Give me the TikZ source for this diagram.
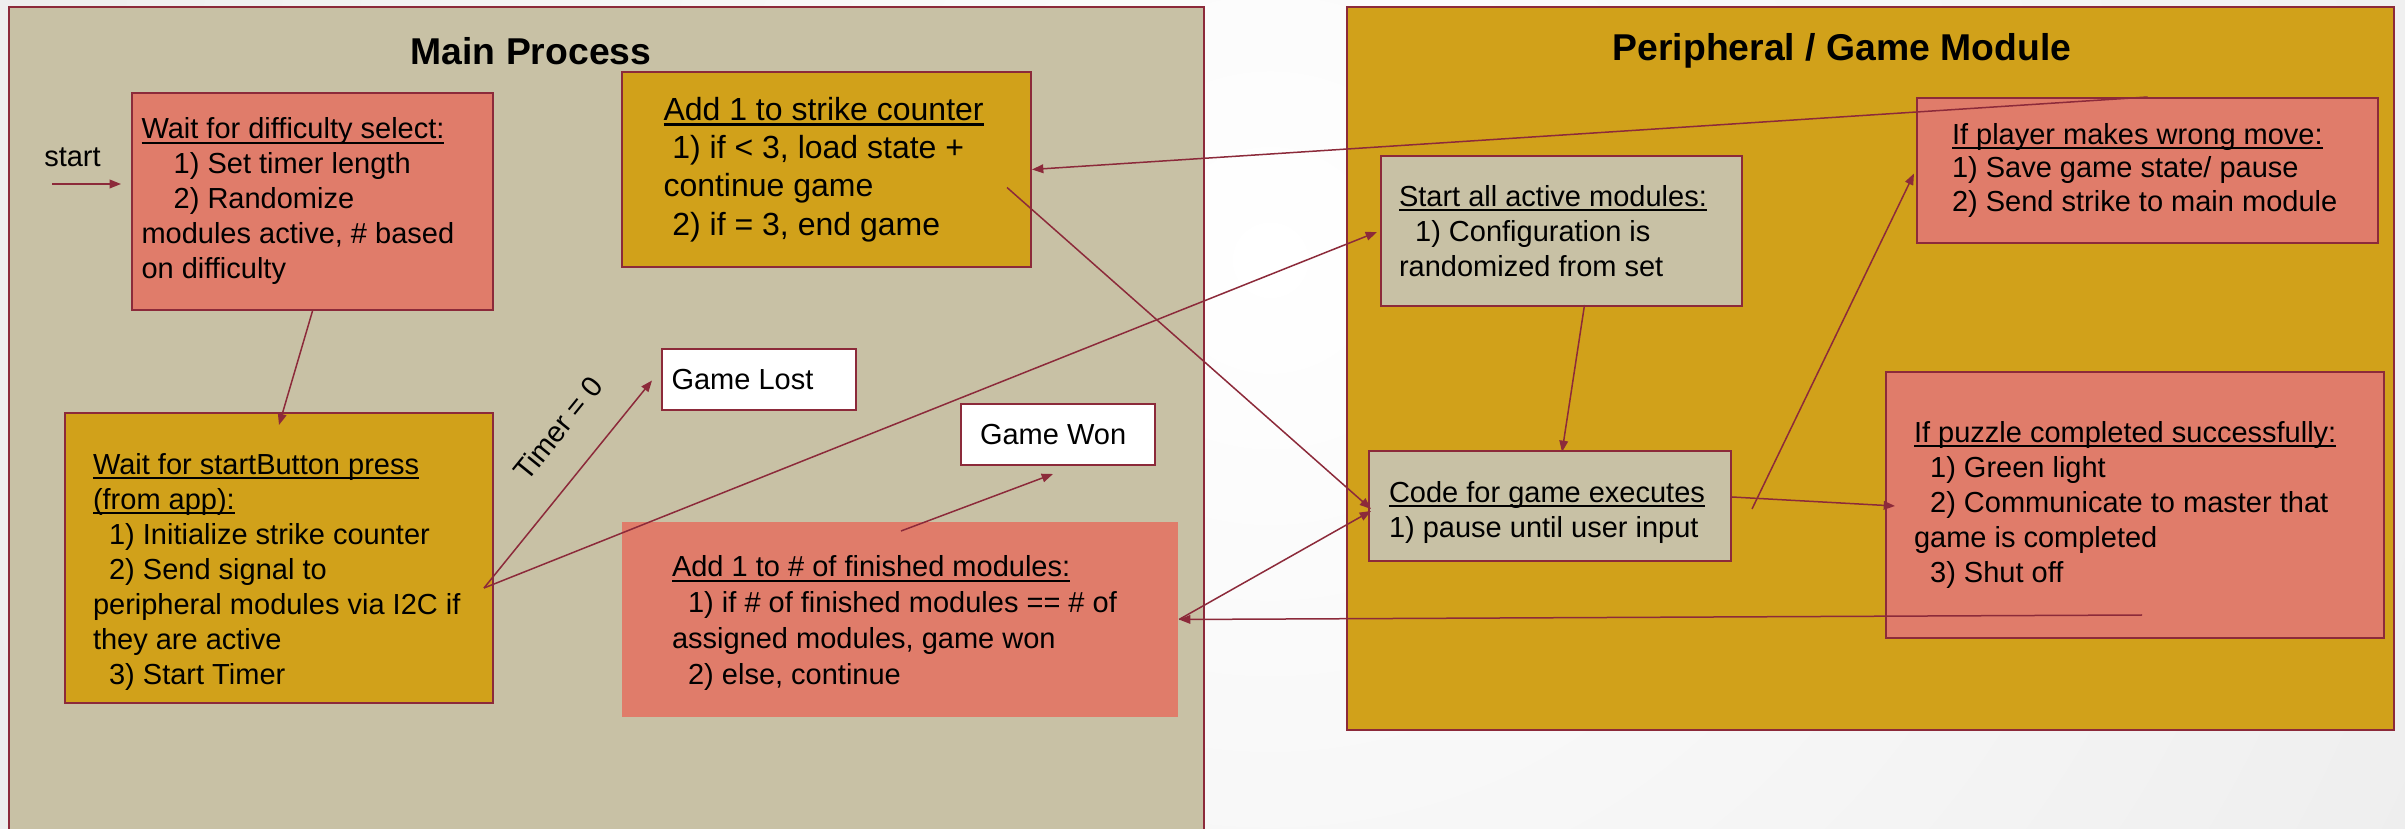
\documentclass[tikz,border=0pt]{standalone}
\usepackage{fontspec}
\setmainfont{Liberation Sans}
\usepackage{tikz}
\usetikzlibrary{calc,arrows.meta}
\definecolor{rim}{HTML}{8C2A3A}
\definecolor{sand}{HTML}{C8C1A5}
\definecolor{mustard}{HTML}{D1A11A}
\definecolor{coral}{HTML}{E07C6A}
\newcommand{\ulhead}[1]{\setbox0\hbox{#1}\leavevmode\rlap{\rule[-0.17em]{\wd0}{0.07em}}\box0}
\newcommand{\tabsp}[1]{\hspace*{#1\fontdimen2\font}}
\tikzset{panel/.style={draw=rim, line width=0.7pt}}
\tikzset{heading/.style={inner sep=0pt, font=\fontsize{11.2}{13}\selectfont\bfseries}}
\tikzset{blk/.style={draw=rim, line width=0.6pt, align=flush left, inner ysep=0pt, anchor=center, font=\fontsize{8.7}{10.5}\selectfont}}
\tikzset{lbl/.style={inner sep=0pt, font=\fontsize{8.7}{10.5}\selectfont}}
\tikzset{arr/.style={draw=rim, line width=0.45pt, -{Triangle[length=3.4pt,width=2.6pt]}}}

\begin{document}
\begin{tikzpicture}[x=0.3pt,y=-0.3pt]
\useasboundingbox (0,0) rectangle (2405,829);
\begin{scope}
	\clip (0,0) rectangle (2405,829);
	\shade[inner color=white, outer color=black!14] (1270,260) circle (810pt);
\end{scope}
\fill[sand] (9,7) rectangle (1204,829);
\draw[panel] (9,829) -- (9,7) -- (1204,7) -- (1204,829);
\draw[panel, fill=mustard] (1347,7) rectangle (2394,730);
\node[heading] (mainhd) at (531,51) {Main Process};
\node[heading] (perihd) at (1842,51) {Peripheral / Game Module};

\node[lbl] (start) at (72.5,157) {start};
\coordinate (startin) at (52,184);

\begin{scope}[every node/.style={blk}]
	\node[fill=coral, text width=102.6pt, inner xsep=2.85pt, minimum height=65.1pt] at (312.5,201.5) (diff) {\ulhead{Wait for difficulty select:}\\
		\tabsp{4}1) Set timer length\\
		\tabsp{4}2) Randomize\\
		modules active, \# based\\
		on difficulty};
	\node[fill=mustard, text width=111.6pt, inner xsep=8.4pt, minimum height=87pt] at (279,558) (startbtn) {\rule{0pt}{14.5pt}\ulhead{Wait for startButton press}\\
		\ulhead{(from app):}\\
		\tabsp{2}1) Initialize strike counter\\
		\tabsp{2}2) Send signal to\\
		peripheral modules via I2C if\\
		they are active\\
		\tabsp{2}3) Start Timer};
	\node[fill=mustard, text width=97.8pt, inner xsep=12.45pt, minimum height=58.5pt,
		font=\fontsize{9.6}{11.5}\selectfont] at (826.5,169.5) (strike) {\ulhead{Add 1 to strike counter}\\
		\tabsp{1}1) if < 3, load state +\\
		continue game\\
		\tabsp{1}2) if = 3, end game};
	\node[fill=white, text width=52.5pt, inner xsep=2.85pt, minimum height=18.3pt] at (759,379.5) (lost) {Game Lost};
	\node[fill=white, text width=46.8pt, inner xsep=5.7pt, minimum height=18.3pt] at (1058,434.5) (won) {Game Won};
	\node[fill=coral, draw=none, text width=136.8pt, inner xsep=15pt, minimum height=58.5pt,
		font=\fontsize{8.7}{10.8}\selectfont] at (900,619.5) (finished) {\rule{0pt}{8.5pt}\ulhead{Add 1 to \# of finished modules:}\\
		\tabsp{2}1) if \# of finished modules == \# of\\
		assigned modules, game won\\
		\tabsp{2}2) else, continue};
	\node[fill=sand, text width=97.5pt, inner xsep=5.4pt, minimum height=45pt] at (1561.5,231) (startall) {\ulhead{Start all active modules:}\\
		\tabsp{2}1) Configuration is\\
		randomized from set};
	\node[fill=sand, text width=96.6pt, inner xsep=6pt, minimum height=33pt] at (1550,506) (code) {\rule{0pt}{10pt}\ulhead{Code for game executes}\\
		1) pause until user input};
	\node[fill=coral, text width=117.3pt, inner xsep=10.5pt, minimum height=43.5pt,
		font=\fontsize{8.7}{10.1}\selectfont] at (2147.5,170.5) (wrong) {\ulhead{If player makes wrong move:}\\
		1) Save game state/ pause\\
		2) Send strike to main module};
	\node[fill=coral, text width=132.6pt, inner xsep=8.4pt, minimum height=79.8pt] at (2135,505) (success) {\ulhead{If puzzle completed successfully:}\\
		\tabsp{2}1) Green light\\
		\tabsp{2}2) Communicate to master that\\
		game is completed\\
		\tabsp{2}3) Shut off};
\end{scope}

\draw[arr, shorten >=3pt] (startin) -- (startin -| diff.west);
\draw[arr] (diff.south) -- ($(startbtn.north)+(0,13)$);
\draw[arr] ($(startbtn.east)+(-10,30)$) -- node[lbl, pos=.64, sloped, above=9.5pt] (timer) {Timer = 0} ($(lost.west)+(-9,1)$);
\draw[arr] ($(startbtn.east)+(-10,30)$) -- ($(startall.west)+(-3,1)$);
\draw[arr] (wrong.north) -- (strike.east);
\draw[arr] ($(strike.east)+(-25,18)$) -- ($(code.west)+(3,3)$);
\draw[arr] ($(finished.north)+(1,10)$) -- ($(won.south)+(-5,8)$);
\draw[arr] ($(success.south)+(7,-24)$) -- (finished.east);
\draw[arr] (finished.east) -- ($(code.west)+(3,5)$);
\draw[arr] ($(startall.south)+(23,-2)$) -- ($(code.north)+(12,2)$);
\draw[arr] ($(code.east)+(0,-9)$) -- ($(success.west)+(10,1)$);
\draw[arr] ($(code.east)+(20,3)$) -- ($(wrong.west)+(-2,3)$);
\end{tikzpicture}
\end{document}
